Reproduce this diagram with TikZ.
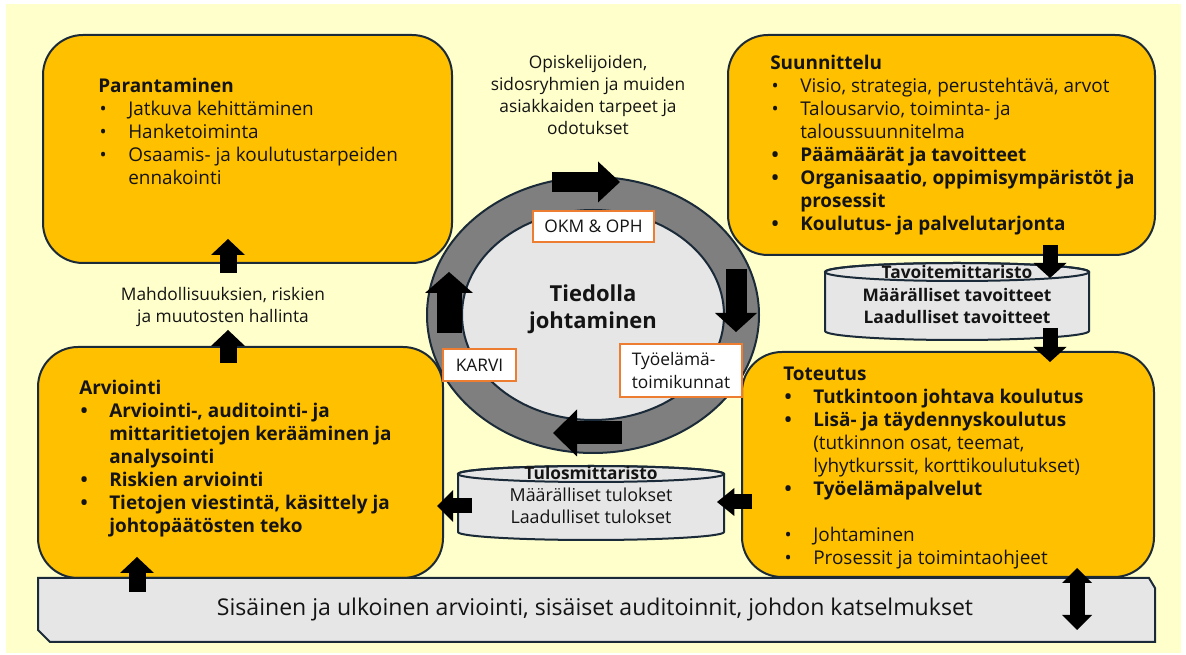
\documentclass[tikz,border=0pt]{standalone}
\usepackage{fontspec}
\setmainfont{Open Sans}
\usetikzlibrary{arrows.meta,fit}

\definecolor{paper}{HTML}{FFFFCC}
\definecolor{amber}{HTML}{FFC000}
\definecolor{ink}{HTML}{1B2A38}
\definecolor{mist}{HTML}{E6E6E6}
\definecolor{ringgray}{HTML}{7F7F7F}
\definecolor{tag}{HTML}{ED7D31}
\definecolor{txt}{HTML}{141414}

% bullet list lines: plain, bold, and continuation lines
\newcommand\itm[1]{\makebox[22.5pt][l]{\hspace{1pt}•}#1}
\newcommand\itmb[1]{\makebox[22.5pt][l]{\hspace{1pt}\bfseries •}\textbf{#1}}
\newcommand\cont[1]{\hspace*{22.5pt}#1}
\newcommand\contb[1]{\hspace*{22.5pt}\textbf{#1}}

% cylinder: centre x, top y, bottom y, half width, cap radius (y measured downwards)
\newcommand\drum[5]{%
  \filldraw[fill=mist, draw=ink, line width=1.5pt]
    (#1-#4,-#2-#5) -- (#1-#4,-#3+#5)
    arc[start angle=180, end angle=360, x radius=#4, y radius=#5]
    -- (#1+#4,-#2-#5)
    arc[start angle=0, end angle=180, x radius=#4, y radius=#5] -- cycle;
  \draw[ink, line width=1.5pt] (#1,-#2-#5) ellipse[x radius=#4, y radius=#5];}

\tikzset{
  ybox/.style={draw=ink, line width=1.5pt, fill=amber, rounded corners=30pt, inner sep=0pt},
  listtext/.style={anchor=north west, align=left, inner sep=0pt, text=txt,
    font=\fontsize{14.2}{17.25}\selectfont},
  tagbox/.style={draw=tag, line width=1.5pt, fill=white, inner sep=0pt},
  tagtext/.style={inner sep=0pt, text=txt, align=left, font=\fontsize{13}{17.25}\selectfont},
  note/.style={align=center, inner sep=0pt, text=txt, font=\fontsize{13}{16.4}\selectfont},
  blockarrow/.style n args={3}{draw=black, line width=#1,
    -{Triangle[length=#3, width=#2, line width=0pt]}},
  dblarrow/.style n args={3}{draw=black, line width=#1,
    {Triangle[length=#3, width=#2, line width=0pt]}-{Triangle[length=#3, width=#2, line width=0pt]}},
}

\begin{document}
\begin{tikzpicture}[x=0.75pt, y=0.75pt]
\useasboundingbox (0,0) rectangle (1186,-655);
\fill[white] (0,0) rectangle (1186,-655);
\fill[paper] (6,-4) rectangle (1181,-653);

% four phase boxes
\node[ybox, fit={(43,-35)(452,-263)}] (par) {};
\node[ybox, fit={(728,-35)(1155,-255)}] (suu) {};
\node[ybox, fit={(38,-347)(443,-578)}] (arv) {};
\node[ybox, fit={(742,-352)(1154,-577)}] (tot) {};

\node[listtext] (partxt) at (98,-78) {\textbf{Parantaminen}\\
  \itm{Jatkuva kehittäminen}\\
  \itm{Hanketoiminta}\\
  \itm{Osaamis- ja koulutustarpeiden}\\
  \cont{ennakointi}};

\node[listtext] (suutxt) at (770,-55) {\textbf{Suunnittelu}\\
  \itm{Visio, strategia, perustehtävä, arvot}\\
  \itm{Talousarvio, toiminta- ja}\\
  \cont{taloussuunnitelma}\\
  \itmb{Päämäärät ja tavoitteet}\\
  \itmb{Organisaatio, oppimisympäristöt ja}\\
  \contb{prosessit}\\
  \itmb{Koulutus- ja palvelutarjonta}};

\node[listtext] (arvtxt) at (79,-380) {\textbf{Arviointi}\\
  \itmb{Arviointi-, auditointi- ja}\\
  \contb{mittaritietojen kerääminen ja}\\
  \contb{analysointi}\\
  \itmb{Riskien arviointi}\\
  \itmb{Tietojen viestintä, käsittely ja}\\
  \contb{johtopäätösten teko}};

\node[listtext] (tottxt) at (783,-367) {\textbf{Toteutus}\\
  \itmb{Tutkintoon johtava koulutus}\\
  \itmb{Lisä- ja täydennyskoulutus}\\
  \cont{(tutkinnon osat, teemat,}\\
  \cont{lyhytkurssit, korttikoulutukset)}\\
  \itmb{Työelämäpalvelut}\\[17.25pt]
  \itm{Johtaminen}\\
  \itm{Prosessit ja toimintaohjeet}};

% free-standing notes
\node[note] (needs) at (588,-95) {Opiskelijoiden,\\sidosryhmien ja muiden\\asiakkaiden tarpeet ja\\odotukset};
\node[note] (risks) at (223,-307) {Mahdollisuuksien, riskien\\ja muutosten hallinta};

% central ring
\coordinate (hub) at (593,-315);
\filldraw[fill=ringgray, draw=ink, line width=1.5pt] (hub) ellipse[x radius=166, y radius=138];
\filldraw[fill=mist, draw=ink, line width=1.5pt] (hub) ellipse[x radius=131, y radius=105];
\node[align=center, inner sep=0pt, text=txt, font=\bfseries\fontsize{16.5}{20}\selectfont] (core) at (593,-309) {Tiedolla\\johtaminen};

% ring arrows
\coordinate (r1a) at (552,-182); \coordinate (r1b) at (620,-182);
\coordinate (r2a) at (736,-269); \coordinate (r2b) at (736,-332);
\coordinate (r3a) at (622,-433); \coordinate (r3b) at (553,-433);
\coordinate (r4a) at (449,-333); \coordinate (r4b) at (449,-272);
\draw[blockarrow={15pt}{30.75pt}{16.5pt}] (r1a) -- (r1b);
\draw[blockarrow={15.75pt}{31.5pt}{14.25pt}] (r2a) -- (r2b);
\draw[blockarrow={17.25pt}{35.25pt}{18pt}] (r3a) -- (r3b);
\draw[blockarrow={18.75pt}{36pt}{15.75pt}] (r4a) -- (r4b);

% stakeholder tags
\node[tagbox, fit={(533,-211)(654,-242)}] (okm) {};
\node[tagtext] (okmtxt) at (okm.center) {OKM \& OPH};
\node[tagbox, fit={(443,-349)(516,-381)}] (karvi) {};
\node[tagtext] (karvitxt) at (karvi.center) {KARVI};
\node[tagbox, fit={(620,-344)(742,-397)}] (tmk) {};
\node[tagtext] (tmktxt) at (tmk.center) {Työelämä-\\toimikunnat};

% indicator cylinders
\drum{957}{263}{340}{132}{9}
\node[inner sep=0pt, text=txt, font=\bfseries\fontsize{13}{16}\selectfont] (tavo) at (957,-272) {Tavoitemittaristo};
\node[inner sep=0pt, align=center, text=txt, font=\bfseries\fontsize{13}{16}\selectfont] (tavo2) at (957,-306) {Määrälliset tavoitteet\\Laadulliset tavoitteet};

\drum{591}{466}{540}{133}{8}
\node[inner sep=0pt, text=txt, font=\bfseries\fontsize{13}{16}\selectfont] (tulos) at (591,-473) {Tulosmittaristo};
\node[inner sep=0pt, align=center, text=txt, font=\fontsize{13.4}{16.5}\selectfont] (tulos2) at (591,-506) {Määrälliset tulokset\\Laadulliset tulokset};

% flow arrows between boxes
\coordinate (p1) at (228,-273); \coordinate (p2) at (228,-239);
\coordinate (q1) at (228,-363); \coordinate (q2) at (228,-330);
\coordinate (s1) at (1050,-245); \coordinate (s2) at (1050,-278);
\coordinate (c1) at (1050,-328); \coordinate (c2) at (1050,-362);
\coordinate (t1) at (752,-502); \coordinate (t2) at (717,-502);
\coordinate (u1) at (472,-506); \coordinate (u2) at (437,-506);
\draw[blockarrow={12.75pt}{25.5pt}{12pt}] (p1) -- (p2);
\draw[blockarrow={12.75pt}{25.5pt}{12pt}] (q1) -- (q2);
\draw[blockarrow={11.25pt}{24.75pt}{11.25pt}] (s1) -- (s2);
\draw[blockarrow={11.25pt}{24.75pt}{11.25pt}] (c1) -- (c2);
\draw[blockarrow={11.25pt}{21pt}{13pt}] (t1) -- (t2);
\draw[blockarrow={11.25pt}{24pt}{12pt}] (u1) -- (u2);

% evaluation bar
\filldraw[fill=mist, draw=ink, line width=1.5pt]
  (38,-578) -- (1149,-578) -- (1155,-588) -- (1155,-642) -- (50,-642) -- (38,-630) -- cycle;
\node[inner sep=0pt, text=txt, font=\fontsize{17.3}{20}\selectfont] (bar) at (595,-610)
  {Sisäinen ja ulkoinen arviointi, sisäiset auditoinnit, johdon katselmukset};

\coordinate (b1) at (137,-592); \coordinate (b2) at (137,-557);
\coordinate (d1) at (1077,-568); \coordinate (d2) at (1077,-630);
\draw[blockarrow={12.75pt}{25.5pt}{12pt}] (b1) -- (b2);
\draw[dblarrow={11.25pt}{22.5pt}{11.25pt}] (d1) -- (d2);
\end{tikzpicture}
\end{document}
